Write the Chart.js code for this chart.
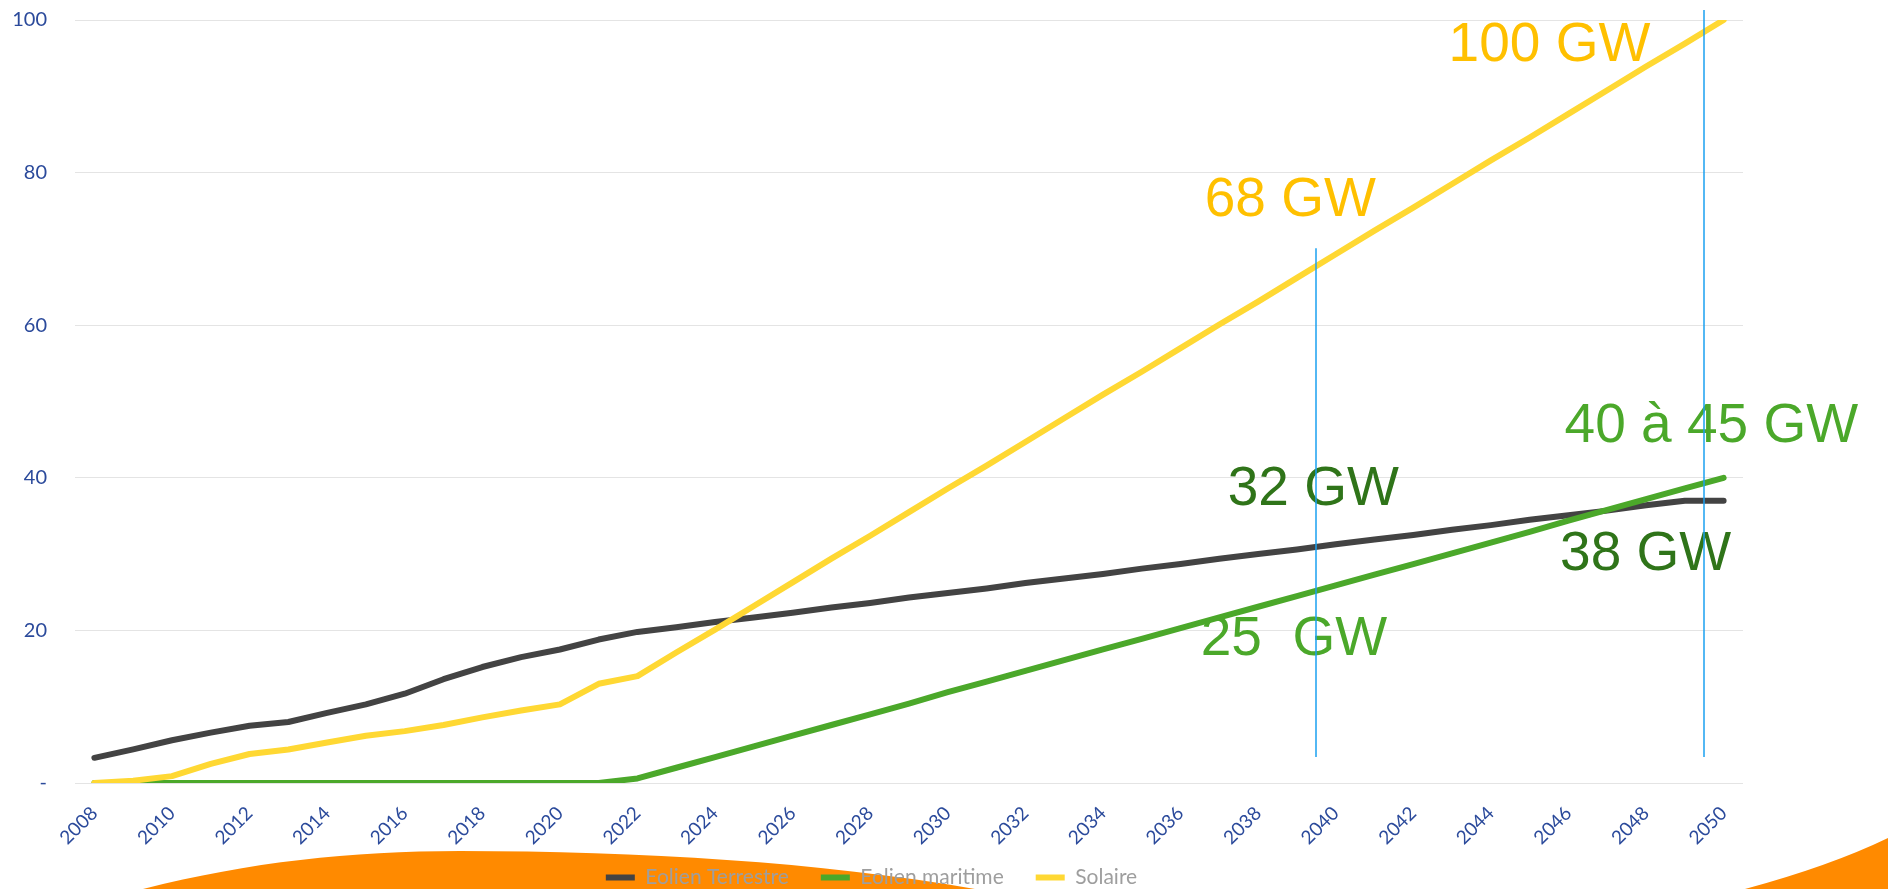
<!DOCTYPE html>
<html><head><meta charset="utf-8">
<script src="https://cdn.jsdelivr.net/npm/chart.js@4.4.1/dist/chart.umd.min.js"></script>
<style>html,body{margin:0;padding:0;background:#fff;overflow:hidden}#wrap{width:1888px;height:889px;position:relative}canvas{display:block}</style>
</head><body><div id="wrap"><canvas id="c" width="1888" height="889"></canvas></div>
<script>
const years = ['2008','2009','2010','2011','2012','2013','2014','2015','2016','2017','2018','2019','2020','2021','2022','2023','2024','2025','2026','2027','2028','2029','2030','2031','2032','2033','2034','2035','2036','2037','2038','2039','2040','2041','2042','2043','2044','2045','2046','2047','2048','2049','2050'];
const eolienTerrestre = [3.3,4.4,5.6,6.6,7.5,8.0,9.2,10.3,11.7,13.6,15.2,16.5,17.5,18.8,19.8,20.4,21.1,21.7,22.3,23.0,23.6,24.3,24.9,25.5,26.2,26.8,27.4,28.1,28.7,29.4,30.0,30.6,31.3,31.9,32.5,33.2,33.8,34.5,35.1,35.7,36.4,37.0,37.0];
const eolienMaritime = [0,0,0,0,0,0,0,0,0,0,0,0,0,0,0.6,2.0,3.4,4.8,6.2,7.6,9.0,10.4,11.9,13.3,14.7,16.1,17.5,18.9,20.3,21.7,23.1,24.5,25.9,27.3,28.7,30.1,31.5,32.9,34.4,35.8,37.2,38.6,40.0];
const solaire = [0.0,0.3,0.9,2.5,3.8,4.4,5.3,6.2,6.8,7.6,8.6,9.5,10.3,13.0,14.0,17.1,20.1,23.2,26.3,29.4,32.4,35.5,38.6,41.6,44.7,47.8,50.9,53.9,57.0,60.1,63.1,66.2,69.3,72.4,75.4,78.5,81.6,84.6,87.7,90.8,93.9,96.9,100];
const seriesNames = ['Eolien Terrestre','Eolien maritime','Solaire'];
const yTicks = [0,20,40,60,80,100];
// annotations: text, anchor year, anchor value
const annotations = [
  {text:'100 GW', year:'2050', value:100, dx:-275, dy:41, color:'#FFC000'},
  {text:'68 GW', year:'2040', value:69.3, dx:-131, dy:-38, color:'#FFC000'},
  {text:'32 GW', year:'2040', value:31.3, dx:-108, dy:-39, color:'#2F7419'},
  {text:'25  GW', year:'2040', value:25.9, dx:-135, dy:70, color:'#4BA82A'},
  {text:'40 à 45 GW', year:'2050', value:40, dx:-159, dy:-36, color:'#4BA82A'},
  {text:'38 GW', year:'2050', value:37, dx:-163.5, dy:69, color:'#2F7419'}
];
const markerYears = ['2040','2050'];

const TICK_BLUE = '#2B4A9B';
const FONT = 'Lato, "Noto Sans", sans-serif';

const decor = {
  id:'decor',
  afterLayout(chart){
    const L = chart.legend;
    if (L) { L.top -= 20; L.bottom -= 20; }
  },
  beforeDraw(chart){
    const ctx = chart.ctx;
    ctx.save();
    ctx.fillStyle = '#FF8A00';
    ctx.beginPath();
    ctx.moveTo(143,889);
    ctx.bezierCurveTo(250,862,350,851,460,851);
    ctx.bezierCurveTo(640,851,820,862,975,889);
    ctx.closePath();
    ctx.fill();
    ctx.beginPath();
    ctx.moveTo(1745,889);
    ctx.quadraticCurveTo(1830,866,1888,838);
    ctx.lineTo(1888,889);
    ctx.closePath();
    ctx.fill();
    ctx.restore();
  },
  afterDatasetsDraw(chart){
    const ctx = chart.ctx, xs = chart.scales.x, ys = chart.scales.y;
    ctx.save();
    ctx.font = '55px "Liberation Sans", Arial, sans-serif';
    ctx.textAlign = 'left';
    ctx.textBaseline = 'alphabetic';
    annotations.forEach(a=>{
      const x = xs.getPixelForValue(years.indexOf(a.year)) + a.dx;
      const y = ys.getPixelForValue(a.value) + a.dy;
      ctx.fillStyle = a.color;
      ctx.fillText(a.text, x, y);
    });
    ctx.restore();
  },
  afterDraw(chart){
    const ctx = chart.ctx, xs = chart.scales.x, ys = chart.scales.y;
    const half = (xs.getPixelForValue(1) - xs.getPixelForValue(0)) / 2;
    ctx.save();
    ctx.strokeStyle = '#1AA0F0';
    ctx.lineWidth = 1.5;
    const tops = [ys.getPixelForValue(70.1), ys.getPixelForValue(101.3)];
    markerYears.forEach((yr,i)=>{
      const x = Math.round(xs.getPixelForValue(years.indexOf(yr)) - half);
      ctx.beginPath();
      ctx.moveTo(x, tops[i]);
      ctx.lineTo(x, ys.getPixelForValue(3.4));
      ctx.stroke();
    });
    ctx.restore();
  }
};

new Chart(document.getElementById('c'), {
  type:'line',
  data:{
    labels: years,
    datasets:[
      {label:seriesNames[0], data:eolienTerrestre, borderColor:'#434343', backgroundColor:'#434343', borderWidth:6, pointRadius:0, borderCapStyle:'round', borderJoinStyle:'round', tension:0, order:2},
      {label:seriesNames[1], data:eolienMaritime, borderColor:'#4BA82A', backgroundColor:'#4BA82A', borderWidth:6, pointRadius:0, borderCapStyle:'round', borderJoinStyle:'round', tension:0, order:1},
      {label:seriesNames[2], data:solaire, borderColor:'#FFD833', backgroundColor:'#FFD833', borderWidth:6, pointRadius:0, borderCapStyle:'round', borderJoinStyle:'round', tension:0, order:0}
    ]
  },
  options:{
    responsive:false,
    animation:false,
    devicePixelRatio:1,
    layout:{padding:{left:0,right:145,top:20,bottom:-29}},
    plugins:{
      legend:{
        position:'bottom',
        labels:{
          usePointStyle:true, pointStyle:'line', pointStyleWidth:29,
          padding:32, color:'#9E9E9E',
          font:{family:FONT, size:21},
          sort:(a,b)=>a.datasetIndex-b.datasetIndex
        }
      },
      tooltip:{enabled:false}
    },
    scales:{
      x:{
        type:'category', offset:true,
        grid:{display:false, drawTicks:false},
        border:{display:false},
        ticks:{
          autoSkip:false, minRotation:45, maxRotation:45, padding:19,
          color:TICK_BLUE, font:{family:FONT, size:19},
          callback:(v,i)=> (i%2===0 ? years[i] : '')
        },
        afterFit:(s)=>{ s.height = 72; }
      },
      y:{
        min:0, max:100,
        grid:{color:'#E4E4E4', lineWidth:1, drawTicks:true, tickLength:28, tickColor:'rgba(0,0,0,0)'},
        border:{display:false},
        afterBuildTicks:(s)=>{ s.ticks = yTicks.map(v=>({value:v})); },
        ticks:{
          padding:0, color:TICK_BLUE, font:{family:FONT, size:20},
          callback:(v)=> (v===0 ? '-' : String(v))
        },
        afterFit:(s)=>{ s.width = 75; }
      }
    }
  },
  plugins:[decor]
});
</script>
</body></html>
